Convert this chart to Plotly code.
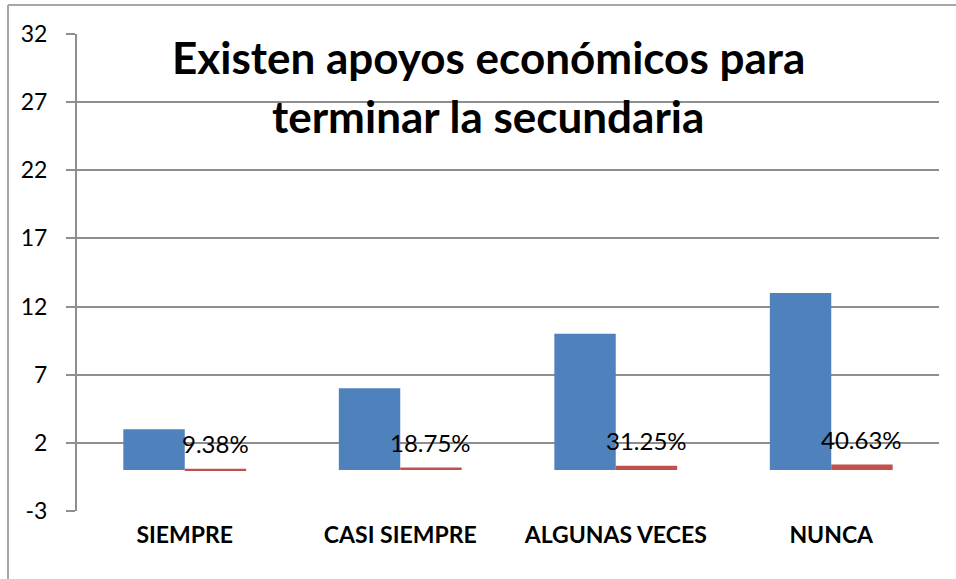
import plotly.graph_objects as go

categories = ["SIEMPRE", "CASI SIEMPRE", "ALGUNAS VECES", "NUNCA"]
counts = [3, 6, 10, 13]
percents = [0.0938, 0.1875, 0.3125, 0.4063]
percent_labels = ["9.38%", "18.75%", "31.25%", "40.63%"]
title_lines = ["Existen apoyos económicos para", "terminar la secundaria"]
y_ticks = [-3, 2, 7, 12, 17, 22, 27, 32]

W, H = 956, 579
ML, MT = 77, 34
PR, PB = 939, 511  # plot right / bottom in px
MR, MB = W - PR, H - PB
PW = W - ML - MR
PH = H - MT - MB


def px_x(px):
    return (px - ML) / PW


def px_y(py):
    return (PB - py) / PH


fig = go.Figure()
fig.add_trace(go.Bar(x=categories, y=counts, marker=dict(color="#4F81BD", line=dict(width=0)),
                     name="Frecuencia", hoverinfo="x+y"))
fig.add_trace(go.Bar(x=categories, y=percents, marker=dict(color="#C0504D", line=dict(width=0)),
                     name="Porcentaje", hoverinfo="x+y"))

# data labels for percentage series
bar_w = PW / len(categories) * (1 - 0.43) / 2
for c, v, t in zip(categories, percents, percent_labels):
    fig.add_annotation(x=c, y=v, text=t, showarrow=False, xshift=bar_w / 2, yshift=25,
                       yanchor="middle", xanchor="center",
                       font=dict(family="Lato", size=24, color="#000000"))

# title lines
fig.add_annotation(x=px_x(488), y=px_y(57), xref="paper", yref="paper",
                   text="<b>" + title_lines[0] + "</b>", showarrow=False,
                   xanchor="center", yanchor="middle",
                   font=dict(family="Lato", size=44, color="#000000"))
fig.add_annotation(x=px_x(488), y=px_y(116), xref="paper", yref="paper",
                   text="<b>" + title_lines[1] + "</b>", showarrow=False,
                   xanchor="center", yanchor="middle",
                   font=dict(family="Lato", size=44, color="#000000"))

# outer frame (left and top edges)
fig.add_shape(type="line", xref="paper", yref="paper", x0=px_x(8), x1=px_x(8),
              y0=px_y(579), y1=px_y(5), line=dict(color="#a6a6a6", width=2))
fig.add_shape(type="line", xref="paper", yref="paper", x0=px_x(8), x1=px_x(956),
              y0=px_y(5), y1=px_y(5), line=dict(color="#a6a6a6", width=2))

fig.update_layout(
    width=W, height=H,
    margin=dict(l=ML, r=MR, t=MT, b=MB, autoexpand=False),
    paper_bgcolor="white", plot_bgcolor="white",
    barmode="group", bargap=0.43, bargroupgap=0,
    showlegend=False,
    font=dict(family="Lato", color="#000000"),
)
fig.update_yaxes(range=[-3, 32], tickvals=y_ticks, ticktext=[str(v) for v in y_ticks],
                 showgrid=True, gridcolor="#8e8e8e", gridwidth=1.5,
                 zeroline=False, showline=True, linecolor="#8e8e8e", linewidth=2,
                 ticks="outside", ticklen=9, tickcolor="#8e8e8e", tickwidth=1.5,
                 ticklabelstandoff=14,
                 tickfont=dict(family="Lato", size=23, color="#000000"))
fig.update_xaxes(showgrid=False, showline=False, zeroline=False, ticks="",
                 ticklabelstandoff=8,
                 tickfont=dict(family="Lato", size=23, color="#000000", weight="bold"))

fig.write_html("out.html", config={"displayModeBar": False},
               post_script="document.body.style.margin='0';document.body.style.overflow='hidden';")
